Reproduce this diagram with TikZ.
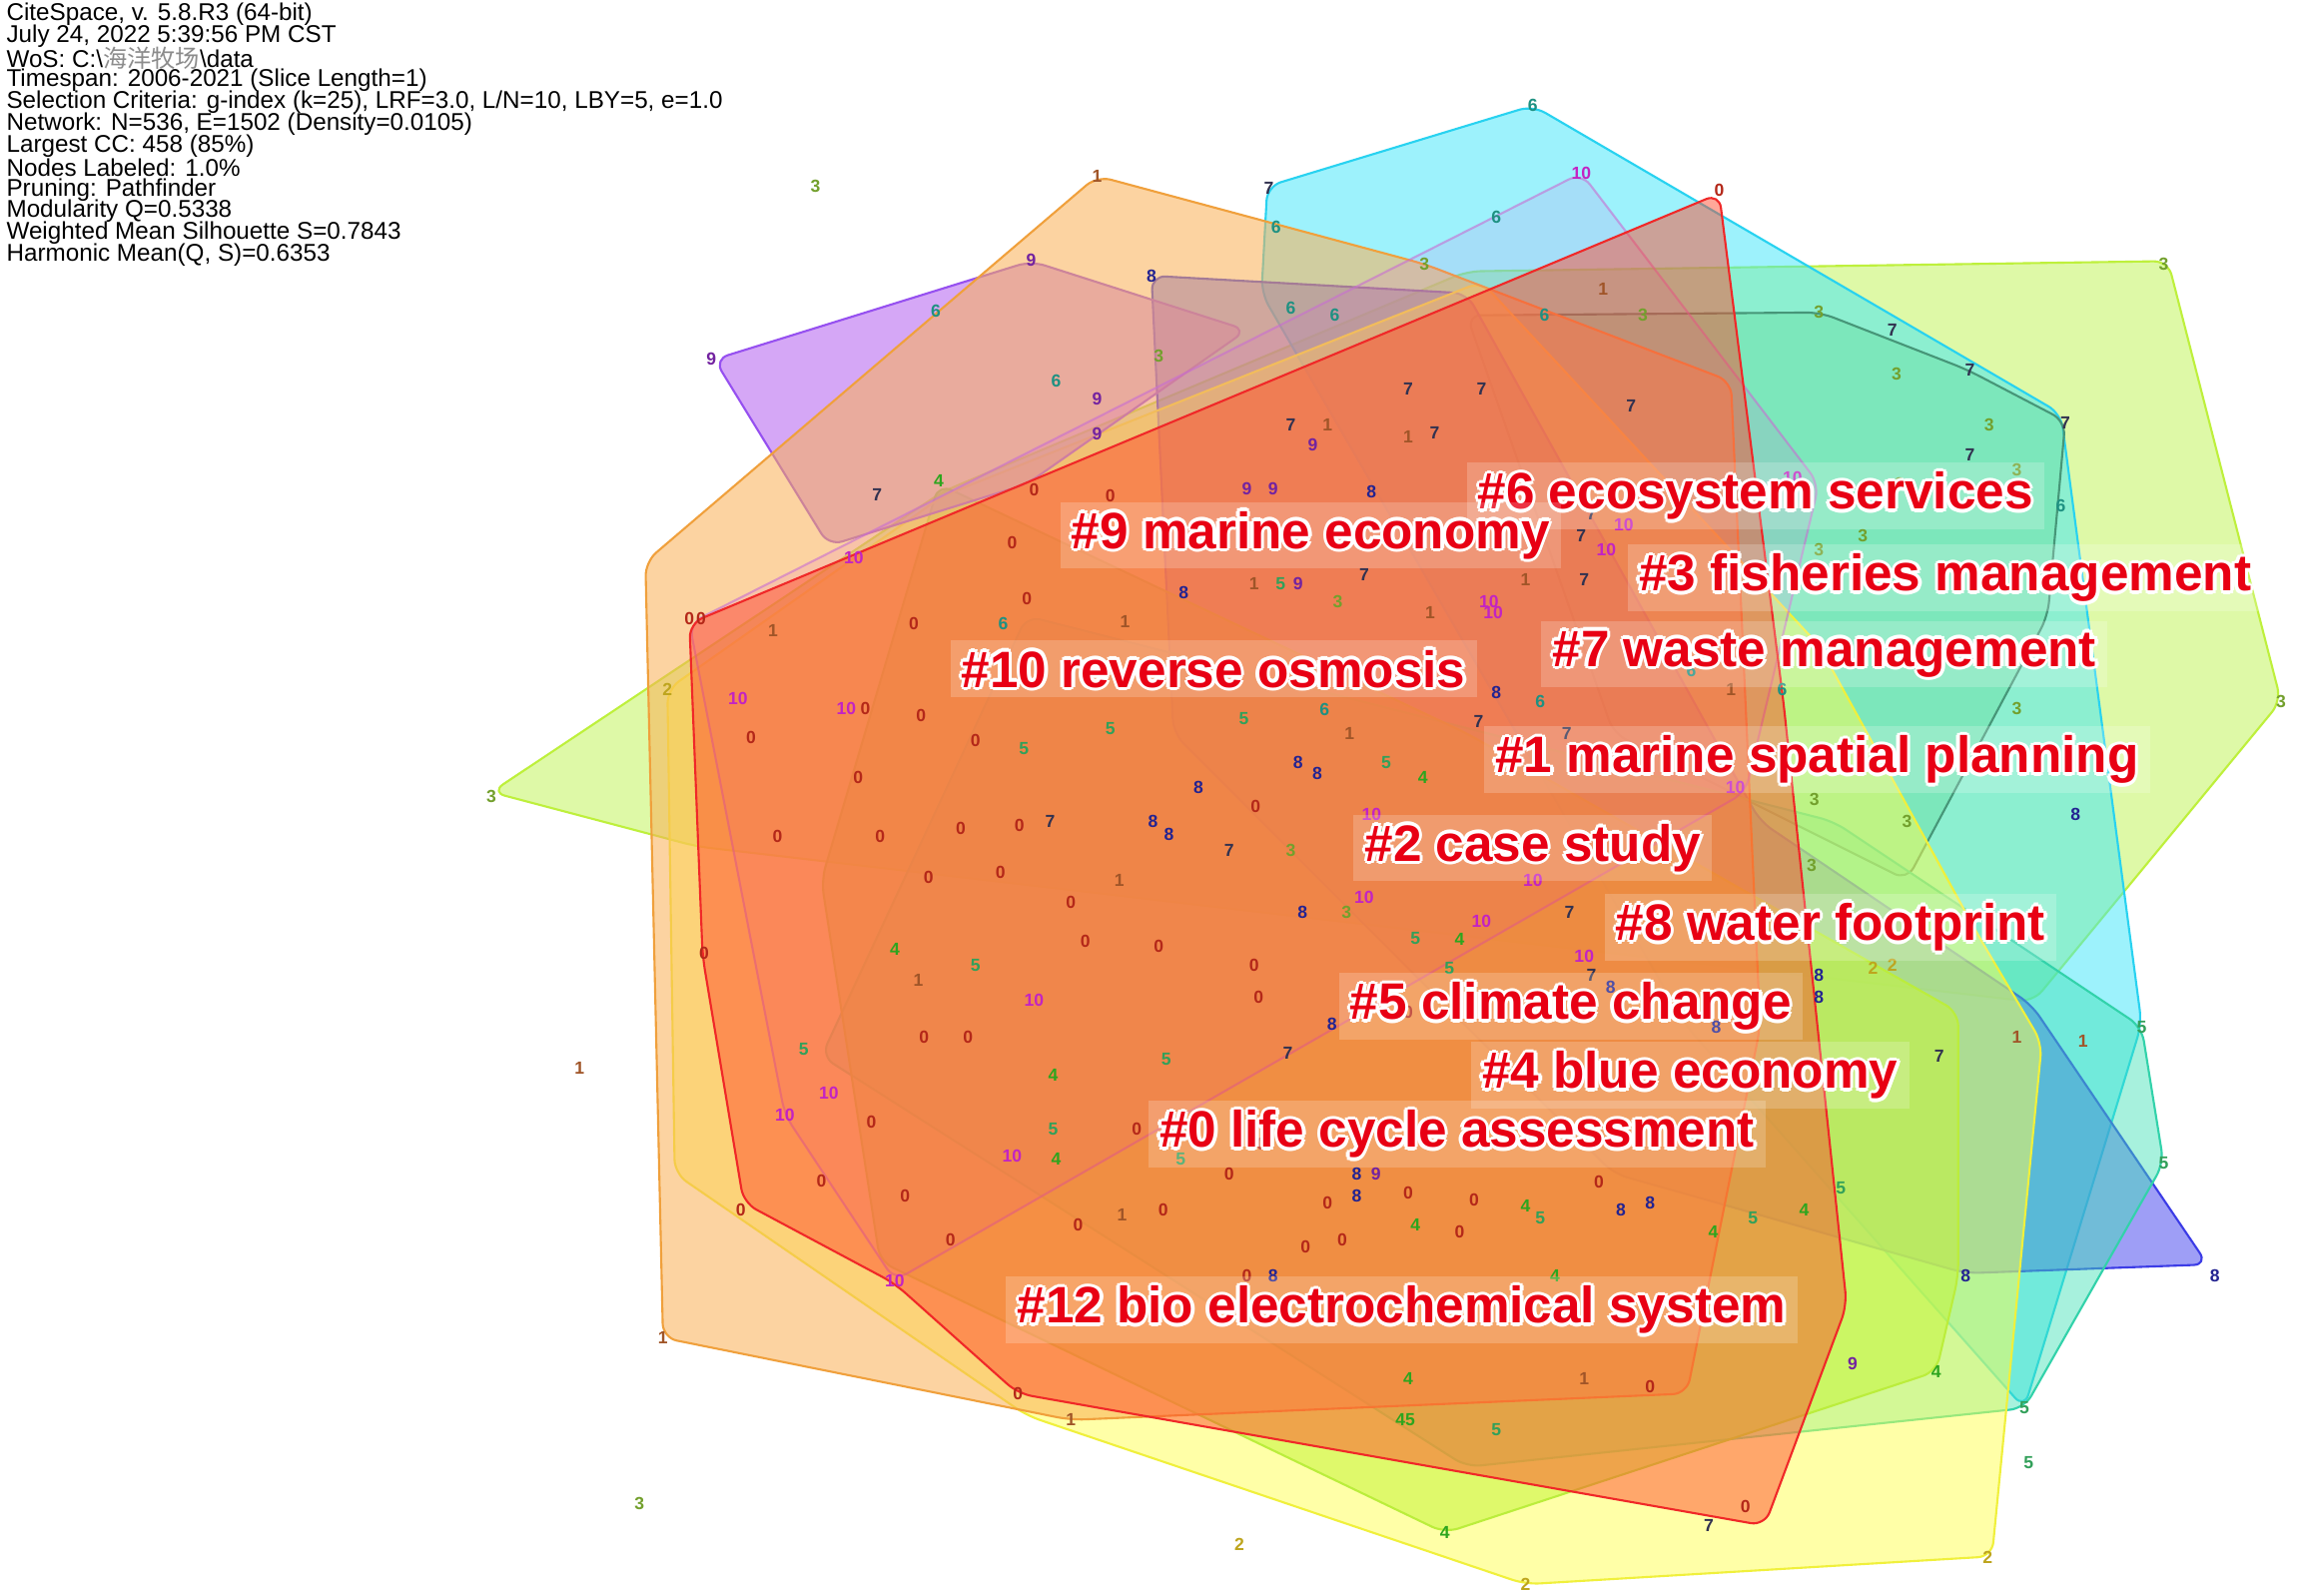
\documentclass[tikz,border=0pt]{standalone}
\usepackage{fontspec}
\setmainfont{Liberation Sans}
\newfontfamily\cjk{Noto Sans CJK SC}
\usetikzlibrary{calc}
\definecolor{C0}{RGB}{255,70,40}\definecolor{E0}{RGB}{240,40,40}
\definecolor{C1}{RGB}{250,175,85}\definecolor{E1}{RGB}{240,160,60}
\definecolor{C2}{RGB}{255,255,80}\definecolor{E2}{RGB}{240,240,60}
\definecolor{C3}{RGB}{190,245,80}\definecolor{E3}{RGB}{190,240,60}
\definecolor{C4}{RGB}{140,235,40}\definecolor{E4}{RGB}{120,220,40}
\definecolor{C5}{RGB}{60,225,180}\definecolor{E5}{RGB}{50,210,170}
\definecolor{C6}{RGB}{60,230,250}\definecolor{E6}{RGB}{40,210,240}
\definecolor{C7}{RGB}{90,215,140}\definecolor{E7}{RGB}{70,150,120}
\definecolor{C8}{RGB}{80,80,240}\definecolor{E8}{RGB}{60,60,230}
\definecolor{C9}{RGB}{180,95,240}\definecolor{E9}{RGB}{150,80,240}
\definecolor{C10}{RGB}{225,80,225}\definecolor{E10}{RGB}{200,110,210}
\definecolor{labred}{RGB}{232,0,20}
\definecolor{d0}{RGB}{180,40,25}\definecolor{d1}{RGB}{160,85,40}
\definecolor{d2}{RGB}{190,165,30}\definecolor{d3}{RGB}{115,160,45}
\definecolor{d4}{RGB}{45,165,30}\definecolor{d5}{RGB}{50,160,90}
\definecolor{d6}{RGB}{30,145,130}\definecolor{d7}{RGB}{50,50,80}
\definecolor{d8}{RGB}{35,35,145}\definecolor{d9}{RGB}{115,35,160}
\definecolor{d10}{RGB}{195,35,195}\definecolor{d45}{RGB}{45,165,30}
\newcommand\lblfont{\fontsize{14.6}{16}\selectfont\bfseries}
\tikzset{
  poly/.style={rounded corners=4pt, line width=0.6pt, line join=round},
  lbl/.style={anchor=west, inner sep=0pt, font=\lblfont, text=labred},
  hdr/.style={anchor=west, inner sep=0pt, font=\fontsize{6.9}{6.2}\selectfont, text=black},
  dig/.style={inner sep=0pt, font=\fontsize{5}{6}\selectfont\bfseries}
}
\newcommand\clabel[4]{%
  \node[lbl, text opacity=0] (#1box) at (#2,#3) {#4};
  \fill[white, opacity=.2] ([shift={(-3pt,-2.5pt)}]#1box.south west) rectangle ([shift={(3pt,2.5pt)}]#1box.north east);
  \foreach \dx/\dy in {1/0,-1/0,0/1,0/-1,0.7/0.7,-0.7/0.7,0.7/-0.7,-0.7/-0.7}
    \node[lbl, text=white] at ([shift={(\dx pt,\dy pt)}]#2,#3) {#4};
  \node[lbl] (#1) at (#2,#3) {#4};
}
\begin{document}
\begin{tikzpicture}[x=0.014688cm,y=-0.014688cm]
\useasboundingbox (0,0) rectangle (1568,1088);
\fill[white] (0,0) rectangle (1568,1088);
% cluster polygons
\path[poly, fill=C3, draw=E3, fill opacity=.5] (335,540) -- (643,335) -- (1000,185) -- (1478,178) -- (1555,478) -- (1386,683) -- (475,577) -- cycle;
\path[poly, fill=C6, draw=E6, fill opacity=.5] (864,127) -- (1045,72) -- (1405,282) -- (1460,698) -- (1380,960) -- (1150,700) -- (860,200) -- cycle;
\path[poly, fill=C7, draw=E7, fill opacity=.3] (1000,215) -- (1241,213) -- (1341,252) -- (1408,287) -- (1396,420) -- (1300,600) -- (1100,500) -- cycle;
\path[poly, fill=C8, draw=E8, fill opacity=.55] (785,188) -- (1000,200) -- (1200,560) -- (1385,685) -- (1505,862) -- (1340,868) -- (1100,800) -- (800,500) -- cycle;
\path[poly, fill=C5, draw=E5, fill opacity=.45] (1460,700) -- (1475,793) -- (1380,960) -- (1000,1000) -- (560,720) -- (700,420) -- (1250,560) -- cycle;
\path[poly, fill=C4, draw=E4, fill opacity=.55] (640,330) -- (1000,500) -- (1335,690) -- (1335,870) -- (1320,935) -- (985,1045) -- (600,860) -- (560,600) -- cycle;
\path[poly, fill=C2, draw=E2, fill opacity=.5] (455,470) -- (643,338) -- (1010,192) -- (1240,440) -- (1350,640) -- (1392,711) -- (1358,1061) -- (1040,1080) -- (700,965) -- (460,800) -- cycle;
\path[poly, fill=C9, draw=E9, fill opacity=.55] (487,245) -- (703,178) -- (850,225) -- (700,330) -- (565,372) -- cycle;
\path[poly, fill=C1, draw=E1, fill opacity=.55] (748,120) -- (971,180) -- (1180,260) -- (1200,700) -- (1150,950) -- (730,968) -- (452,912) -- (440,383) -- cycle;
\path[poly, fill=C10, draw=E10, fill opacity=.12, draw opacity=.6] (1078,118) -- (1240,330) -- (1190,540) -- (610,873) -- (535,760) -- (470,425) -- cycle;
\path[poly, fill=C0, draw=E0, fill opacity=.47] (1172,132) -- (1216,480) -- (1259,890) -- (1203,1040) -- (694,950) -- (610,875) -- (507,820) -- (479,652) -- (470,425) -- cycle;
% node labels (cluster numbers)
\foreach \x/\y/\t [count=\i] in {556/127/3,748/120/1,865/128/7,1045/72/6,1078/118/10,1172/130/0,1020/148/6,870/155/6,703/177/9,785/188/8,971/180/3,1475/180/3,485/245/9,638/212/6,720/260/6,748/272/9,748/296/9,790/243/3,880/210/6,910/215/6,960/265/7,1010/265/7,1053/215/6,1093/197/1,1112/277/7,1120/215/3,1240/213/3,1290/225/7,1343/252/7,1293/255/3,1356/290/3,1408/288/7,1375/320/3,1343/310/7,1405/345/6,1240/375/3,1295/330/3,1270/365/3,1222/326/10,1095/375/10,1078/365/7,1107/358/10,1085/350/7,598/337/7,640/328/4,705/334/0,757/338/0,850/333/9,868/333/9,895/303/9,880/290/7,905/290/1,935/335/8,960/298/1,978/295/7,690/370/0,582/380/10,1015/410/10,1080/395/7,1040/395/1,470/422/0,478/422/0,527/430/1,623/425/0,684/425/6,700/408/0,767/424/1,807/404/8,855/398/1,873/398/5,885/398/9,912/410/3,930/392/7,975/418/1,1018/418/10,455/470/2,503/476/10,577/483/10,590/483/0,628/488/0,512/503/0,585/530/0,665/505/0,698/510/5,757/497/5,848/490/5,903/484/6,1008/492/7,1020/472/8,1050/478/6,1068/500/7,1090/510/1,1153/457/6,1180/470/1,1215/470/6,530/570/0,600/570/0,655/565/0,695/563/0,716/560/7,786/560/8,797/569/8,817/537/8,856/550/0,885/520/8,898/527/8,920/500/1,945/520/5,970/530/4,935/555/10,940/570/5,838/580/7,880/580/3,763/600/1,730/615/0,633/598/0,682/595/0,480/650/0,610/647/4,626/668/1,665/658/5,705/682/10,740/642/0,790/645/0,855/658/0,888/622/8,918/622/3,930/612/10,965/640/5,995/640/4,1010/628/10,1045/600/10,1070/622/7,1080/652/10,548/715/5,565/745/10,535/760/10,594/765/0,630/707/0,660/707/0,718/733/4,795/722/5,858/680/0,908/698/8,878/718/7,960/690/0,988/660/5,1060/680/4,1085/665/7,1098/673/8,1170/700/8,1240/665/8,1240/680/8,1277/660/2,1290/658/2,1322/720/7,1375/707/1,1420/710/1,395/728/1,505/825/0,610/873/10,690/788/10,560/805/0,617/815/0,648/845/0,720/790/4,718/770/5,775/770/0,805/790/5,838/800/0,860/780/0,925/800/8,938/800/9,905/820/0,925/815/8,960/813/0,965/835/4,1005/818/0,1040/822/4,1090/806/0,1105/825/8,1125/820/8,1168/840/4,1195/830/5,1230/825/4,1255/810/5,1180/900/4,452/912/1,694/950/0,730/968/1,735/835/0,765/828/1,793/825/0,850/870/0,868/870/8,890/850/0,915/845/0,995/840/0,1050/830/5,1060/870/4,1080/940/1,985/1045/4,960/940/4,958/968/45,1020/975/5,1125/945/0,1190/1027/0,1165/1040/7,845/1053/2,1040/1080/2,1355/1062/2,1320/935/4,1263/930/9,1380/960/5,1383/997/5,1475/793/5,1340/870/8,1510/870/8,1415/555/8,1460/700/5,436/1025/3,335/543/3,1555/478/3,1375/483/3,1300/560/3,1237/545/3,1183/537/10,1235/590/3}
  \node[dig, text=d\t] (n\i) at (\x,\y) {\t};
% header
\node[hdr] (h1) at (4,10) {CiteSpace, v. 5.8.R3 (64-bit)};
\node[hdr] (h2) at (4,24.9) {July 24, 2022 5:39:56 PM CST};
\node[hdr] (h3) at (4,39.8) {WoS: C:\textbackslash{\cjk\color{black!45}海洋牧场}\textbackslash data};
\node[hdr] (h4) at (4,54.7) {Timespan: 2006-2021 (Slice Length=1)};
\node[hdr] (h5) at (4,69.6) {Selection Criteria: g-index (k=25), LRF=3.0, L/N=10, LBY=5, e=1.0};
\node[hdr] (h6) at (4,84.5) {Network: N=536, E=1502 (Density=0.0105)};
\node[hdr] (h7) at (4,99.4) {Largest CC: 458 (85\%)};
\node[hdr] (h8) at (4,114.3) {Nodes Labeled: 1.0\%};
\node[hdr] (h9) at (4,129.2) {Pruning: Pathfinder};
\node[hdr] (h10) at (4,144.1) {Modularity Q=0.5338};
\node[hdr] (h11) at (4,159) {Weighted Mean Silhouette S=0.7843};
\node[hdr] (h12) at (4,174) {Harmonic Mean(Q, S)=0.6353};
% cluster labels
\clabel{L6}{1007}{338}{\#6 ecosystem services}
\clabel{L9}{730}{365}{\#9 marine economy}
\clabel{L3}{1117}{394}{\#3 fisheries management}
\clabel{L7}{1058}{446}{\#7 waste management}
\clabel{L10}{655}{456}{\#10 reverse osmosis}
\clabel{L1}{1019}{518}{\#1 marine spatial planning}
\clabel{L2}{930}{578}{\#2 case study}
\clabel{L8}{1101}{632}{\#8 water footprint}
\clabel{L5}{920}{686}{\#5 climate change}
\clabel{L4}{1010}{733}{\#4 blue economy}
\clabel{L0}{790}{773}{\#0 life cycle assessment}
\clabel{L12}{693}{893}{\#12 bio electrochemical system}
\end{tikzpicture}
\end{document}
